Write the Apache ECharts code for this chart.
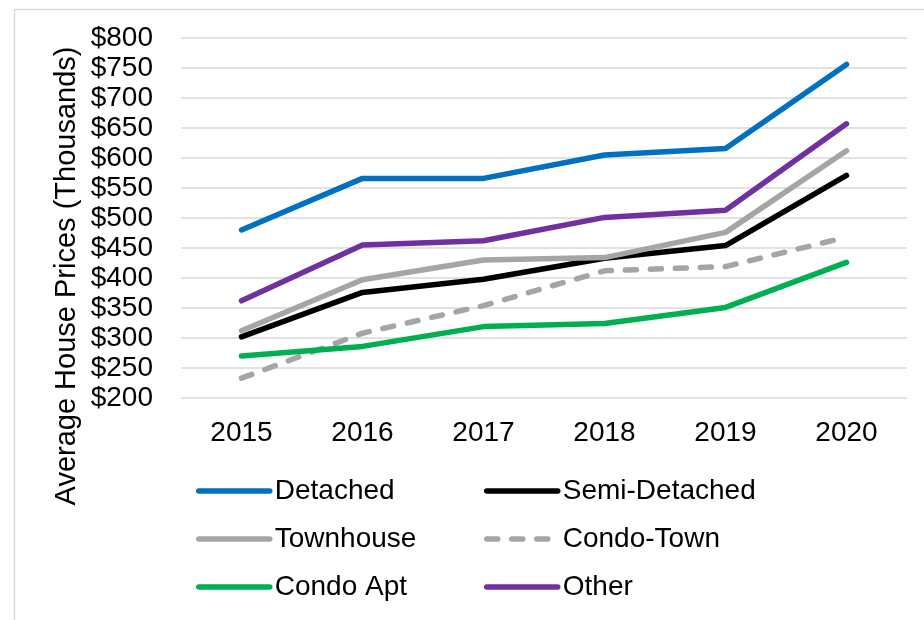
<!DOCTYPE html>
<html>
<head>
<meta charset="utf-8">
<script src="https://cdn.jsdelivr.net/npm/echarts@6/dist/echarts.min.js"></script>
<style>
  html, body { margin: 0; padding: 0; background: #fff; }
  #chart { width: 924px; height: 620px; }
</style>
</head>
<body>
<div id="chart"></div>
<script>
// data (thousands of dollars)
const years = ['2015', '2016', '2017', '2018', '2019', '2020']
const detached = [480, 566, 566, 605, 616, 756]
const semiDetached = [302, 376, 398, 433, 454, 571]
const townhouse = [312, 397, 430, 434, 476, 612]
const condoTown = [233, 308, 354, 412, 419, 468]
const condoApt = [270, 286, 319, 324, 351, 426]
const other = [362, 455, 462, 501, 513, 657]

const font = '"Liberation Sans", Arial, sans-serif'

const makeLine = (name, data, color, type) => ({
  name,
  type: 'line',
  data,
  symbol: 'none',
  smooth: false,
  lineStyle: {
    color,
    width: 5.5,
    type: type || 'solid',
    cap: 'round',
    join: 'round'
  },
  itemStyle: { color }
})

const chart = echarts.init(document.getElementById('chart'))

const legendCommon = {
  orient: 'vertical',
  top: 477,
  padding: 0,
  itemWidth: 71,
  itemHeight: 28,
  itemGap: 20,
  // hide the round marker, keep only the line sample
  itemStyle: { opacity: 0 },
  lineStyle: { width: 5.5, cap: 'round' },
  textStyle: { fontFamily: font, fontSize: 28, color: '#000' }
}

const option = {
  animation: false,
  backgroundColor: '#fff',
  grid: {
    left: 181,
    right: 17,
    top: 38,
    bottom: 222
  },
  xAxis: {
    type: 'category',
    data: years,
    axisLine: { show: false },
    axisTick: { show: false },
    axisLabel: {
      margin: 21,
      fontFamily: font,
      fontSize: 28,
      color: '#000'
    }
  },
  yAxis: {
    type: 'value',
    min: 200,
    max: 800,
    interval: 50,
    axisLine: { show: false },
    axisTick: { show: false },
    splitLine: { lineStyle: { color: '#d9d9d9', width: 1.5 } },
    axisLabel: {
      margin: 28,
      fontFamily: font,
      fontSize: 28,
      color: '#000',
      formatter: v => '$' + v
    }
  },
  legend: [
    Object.assign({ left: 196, data: ['Detached', 'Townhouse', 'Condo Apt'] }, legendCommon),
    Object.assign({ left: 484, data: ['Semi-Detached', 'Condo-Town', 'Other'] }, legendCommon)
  ],
  graphic: [
    {
      type: 'rect',
      shape: { x: 14.5, y: 9.5, width: 1000, height: 700 },
      style: { fill: 'none', stroke: '#d9d9d9', lineWidth: 1.5 },
      silent: true
    },
    {
      type: 'text',
      x: 67,
      y: 276,
      rotation: Math.PI / 2,
      style: {
        text: 'Average House Prices (Thousands)',
        fontFamily: font,
        fontSize: 29,
        fill: '#000',
        align: 'center',
        verticalAlign: 'middle'
      }
    }
  ],
  series: [
    makeLine('Detached', detached, '#0070C0'),
    makeLine('Semi-Detached', semiDetached, '#000000'),
    makeLine('Townhouse', townhouse, '#A5A5A5'),
    makeLine('Condo-Town', condoTown, '#A5A5A5', [11, 14]),
    makeLine('Condo Apt', condoApt, '#00B050'),
    makeLine('Other', other, '#7030A0')
  ]
}

chart.setOption(option)
</script>
</body>
</html>
